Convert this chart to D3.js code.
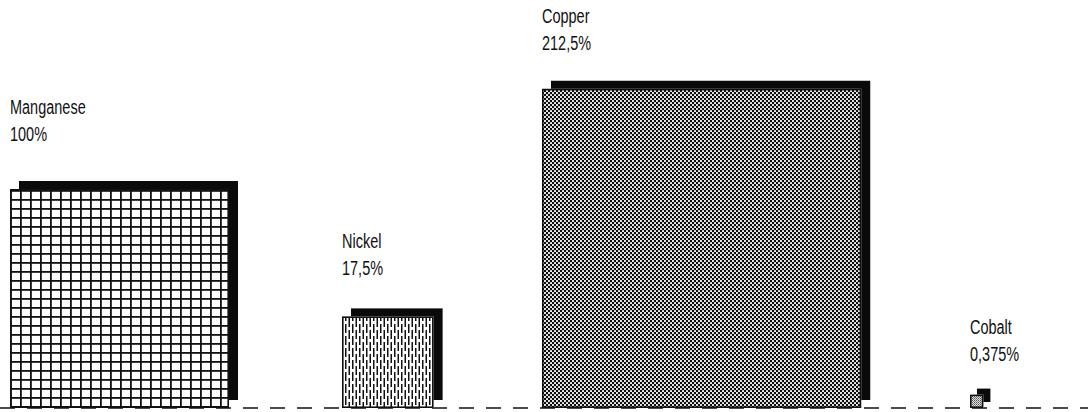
<!DOCTYPE html>
<html>
<head>
<meta charset="utf-8">
<script src="https://cdn.jsdelivr.net/npm/d3@7"></script>
<style>
  html, body { margin: 0; padding: 0; background: #fff; }
  svg { display: block; }
  text { font-family: "Liberation Sans", Arial, sans-serif; fill: #111; }
</style>
</head>
<body>
<svg id="chart" width="1088" height="412"></svg>
<script>
// Metals and their share relative to manganese (percent)
const metals = ["Manganese", "Nickel", "Copper", "Cobalt"];
const values = [100, 17.5, 212.5, 0.375];
const valueLabels = ["100%", "17,5%", "212,5%", "0,375%"];
const fills = ["grid", "dashes", "dots", "fineDots"];

const W = 1088;
const baseY = 408;
const svg = d3.select("#chart");

// Layout: left edge of each square and how far its label block sits above it
const slotX = { Manganese: 10, Nickel: 342, Copper: 542, Cobalt: 970 };
const labelLift = { Manganese: 48, Nickel: 41, Copper: 39, Cobalt: 34 };

// Square side length: area proportional to value
const side = d3.scaleSqrt().domain([0, 100]).range([0, 219]);

const defs = svg.append("defs");

// Square grid fill
const pg = defs.append("pattern").attr("id", "grid").attr("patternUnits", "userSpaceOnUse")
  .attr("width", 10).attr("height", 9).attr("x", 10).attr("y", 190);
pg.append("rect").attr("width", 10).attr("height", 9).attr("fill", "#fff");
pg.append("rect").attr("x", 0).attr("y", 0).attr("width", 1.8).attr("height", 9).attr("fill", "#111");
pg.append("rect").attr("x", 0).attr("y", 0).attr("width", 10).attr("height", 1.8).attr("fill", "#111");

// Staggered vertical dashes
const pd = defs.append("pattern").attr("id", "dashes").attr("patternUnits", "userSpaceOnUse")
  .attr("width", 7).attr("height", 12);
pd.append("rect").attr("width", 7).attr("height", 12).attr("fill", "#fff");
pd.append("rect").attr("x", 2).attr("y", 0).attr("width", 1.5).attr("height", 9).attr("fill", "#111");
pd.append("rect").attr("x", 5.5).attr("y", 6).attr("width", 1.5).attr("height", 9).attr("fill", "#111");
pd.append("rect").attr("x", 5.5).attr("y", -6).attr("width", 1.5).attr("height", 9).attr("fill", "#111");

// Dense dark dot screen
const pc = defs.append("pattern").attr("id", "dots").attr("patternUnits", "userSpaceOnUse")
  .attr("width", 4).attr("height", 4);
pc.append("rect").attr("width", 4).attr("height", 4).attr("fill", "#0d0d0d");
pc.append("circle").attr("cx", 1).attr("cy", 1).attr("r", 1.05).attr("fill", "#fff");
pc.append("circle").attr("cx", 3).attr("cy", 3).attr("r", 1.05).attr("fill", "#fff");

// Light grey screen
const pf = defs.append("pattern").attr("id", "fineDots").attr("patternUnits", "userSpaceOnUse")
  .attr("width", 2).attr("height", 2);
pf.append("rect").attr("width", 2).attr("height", 2).attr("fill", "#ddd");
pf.append("rect").attr("width", 1).attr("height", 1).attr("fill", "#555");
pf.append("rect").attr("x", 1).attr("y", 1).attr("width", 1).attr("height", 1).attr("fill", "#888");

// Dashed baseline
svg.append("line")
  .attr("x1", 0).attr("x2", W).attr("y1", baseY).attr("y2", baseY)
  .attr("stroke", "#111").attr("stroke-width", 1.6)
  .attr("stroke-dasharray", "15,12");

const data = metals.map((m, i) => ({ name: m, value: values[i], label: valueLabels[i], fill: fills[i] }));

const g = svg.selectAll("g.metal").data(data).enter().append("g").attr("class", "metal");

const shadowOff = d => side(d.value) > 40 ? 8 : 6;

// Back shadow
g.append("rect")
  .attr("x", d => slotX[d.name] + shadowOff(d) + 1)
  .attr("y", d => baseY - side(d.value) - shadowOff(d))
  .attr("width", d => side(d.value))
  .attr("height", d => side(d.value))
  .attr("fill", "#0a0a0a");

// White gap under the face
g.append("rect")
  .attr("x", d => slotX[d.name])
  .attr("y", d => baseY - side(d.value))
  .attr("width", d => side(d.value))
  .attr("height", d => side(d.value))
  .attr("fill", "#fff");

// Patterned face
g.append("rect")
  .attr("x", d => slotX[d.name] + 0.8)
  .attr("y", d => baseY - side(d.value) + 0.8)
  .attr("width", d => side(d.value) - 1.6)
  .attr("height", d => side(d.value) - 1.6)
  .attr("fill", d => `url(#${d.fill})`)
  .attr("stroke", "#111").attr("stroke-width", 1.6);

// Name and value labels, set in a compressed face
const labels = g.append("g")
  .attr("transform", d => `translate(${slotX[d.name]},${baseY - side(d.value) - labelLift[d.name]}) scale(0.69,1)`);
labels.append("text")
  .attr("x", 0).attr("y", -27)
  .attr("font-size", 21)
  .text(d => d.name);
labels.append("text")
  .attr("x", 0).attr("y", 0)
  .attr("font-size", 21)
  .text(d => d.label);
</script>
</body>
</html>
